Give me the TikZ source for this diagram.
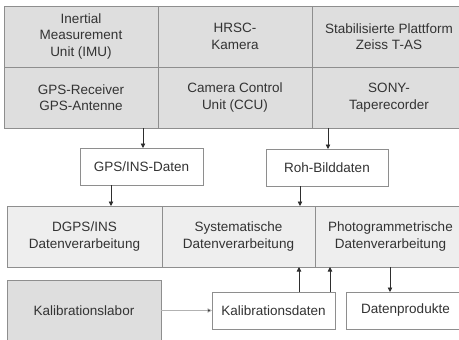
\documentclass[tikz,border=0pt]{standalone}
\usepackage{fontspec}
\setmainfont{Liberation Sans}
\usetikzlibrary{arrows.meta,calc}
\definecolor{topfill}{HTML}{DEDEDE}
\definecolor{midfill}{HTML}{EEEEEE}
\definecolor{bordc}{HTML}{8E8E8E}
\definecolor{arrc}{HTML}{2E2E2E}
\definecolor{txtc}{HTML}{333333}
\begin{document}
\begin{tikzpicture}[x=1pt,y=-1pt,
  box/.style={draw=bordc, line width=0.8pt, rectangle, inner sep=0pt, outer sep=0pt,
    align=center, font=\fontsize{13.5}{16.5}\selectfont, text=txtc},
  topbox/.style={box, fill=topfill, minimum width=154pt, minimum height=61pt},
  midbox/.style={box, fill=midfill, minimum height=61pt},
  whitebox/.style={box, fill=white, minimum height=37pt},
  arr/.style={draw=arrc, line width=0.7pt, -{Triangle[length=4.5pt,width=4.5pt]}},
  ]
\useasboundingbox (0,0) rectangle (459,340);
\clip (0,0) rectangle (459,340);
% top block
\node[topbox] (imu)  at (81,36.5)  {Inertial\\Measurement\\Unit (IMU)};
\node[topbox] (hrsc) at (235,36.5) {HRSC-\\Kamera};
\node[topbox] (plat) at (389,36.5) {Stabilisierte Plattform\\Zeiss T-AS};
\node[topbox] (gpsrec) at (81,97.5)  {GPS-Receiver\\GPS-Antenne};
\node[topbox] (ccu)    at (235,97.5) {Camera Control\\Unit (CCU)};
\node[topbox] (sony)   at (389,97.5) {SONY-\\Taperecorder};
% data boxes
\node[whitebox, minimum width=123pt] (gpsins) at (141.5,166.5) {GPS/INS-Daten};
\node[whitebox, minimum width=122pt] (roh)    at (327,167.5)   {Roh-Bilddaten};
% processing row
\node[midbox, minimum width=155pt] (dgps)  at (84.5,236.5)  {DGPS/INS\\Datenverarbeitung};
\node[midbox, minimum width=153pt] (sys)   at (238.5,236.5) {Systematische\\Datenverarbeitung};
\node[midbox, minimum width=151pt] (photo) at (390.5,236.5) {Photogrammetrische\\Datenverarbeitung};
% bottom row
\node[box, fill=topfill, minimum width=154pt, minimum height=62pt] (klab) at (84,311) {Kalibrationslabor};
\node[whitebox, minimum width=123pt] (kdat) at (273.5,310.5) {Kalibrationsdaten};
\node[whitebox, minimum width=119pt] (dprod) at (405.5,310.5) {Datenprodukte};
% connectors
\draw[arr] ([xshift=1.5pt]gpsins.north |- gpsrec.south) -- ([xshift=1.5pt]gpsins.north);
\draw[arr] ([xshift=1pt]roh.north |- sony.south) -- ([xshift=1pt]roh.north);
\draw[arr] ([xshift=-30.5pt]gpsins.south) -- ([xshift=-30.5pt]gpsins.south |- dgps.north);
\draw[arr] ([xshift=-27pt]roh.south) -- ([xshift=-27pt]roh.south |- sys.north);
\draw[arr] ([xshift=25.5pt]kdat.north) -- ([xshift=25.5pt]kdat.north |- sys.south);
\draw[arr] ([xshift=56.5pt]kdat.north) -- ([xshift=56.5pt]kdat.north |- sys.south);
\draw[arr] ([xshift=-15.5pt]dprod.north |- photo.south) -- ([xshift=-15.5pt]dprod.north);
\draw[draw=black!30, line width=0.7pt] (klab.east |- kdat.west) -- ([xshift=-8pt]kdat.west);
\draw[arr, draw=black!30, -{Triangle[length=4.5pt,width=4.5pt,fill=arrc]}] ([xshift=-8pt]kdat.west) -- (kdat.west);
\end{tikzpicture}
\end{document}
